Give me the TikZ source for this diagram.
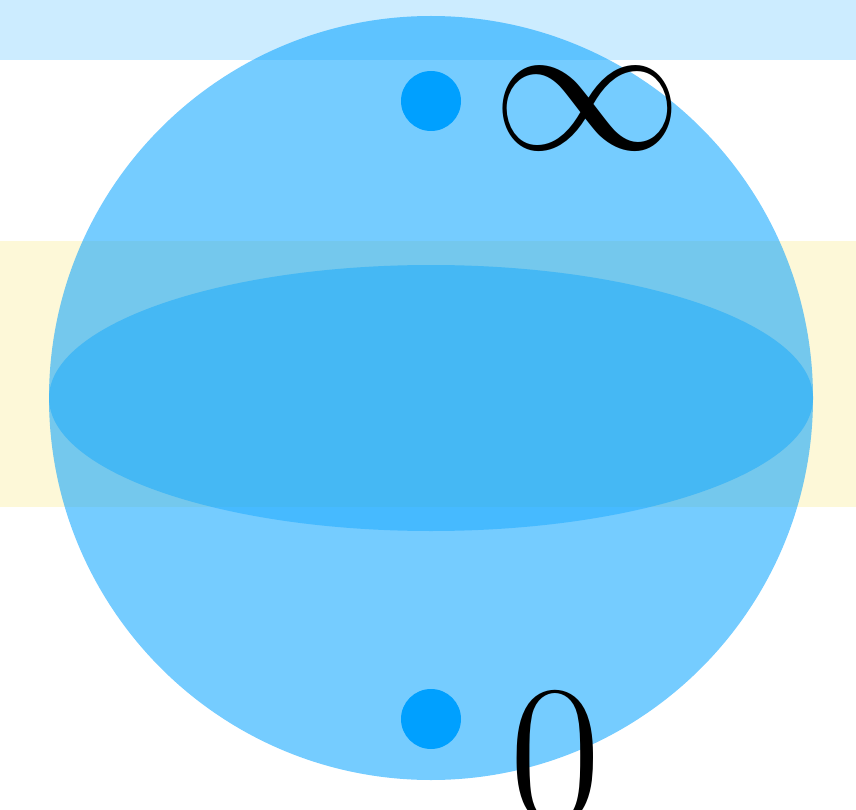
\RequirePackage{fix-cm}
\documentclass[tikz,border=0pt]{standalone}
\usepackage{xcolor}
\usepackage{tikz}
\usetikzlibrary{positioning}
\definecolor{skyblue}{HTML}{00A0FF}
\definecolor{paleyellow}{HTML}{FDF8D8}
\tikzset{
  bandtop/.style={fill=skyblue,fill opacity=0.2},
  bandmid/.style={fill=paleyellow},
  spherefill/.style={fill=skyblue,fill opacity=0.54},
  eqfill/.style={fill=skyblue,fill opacity=0.4},
  polenode/.style={circle,fill=skyblue,minimum size=60pt,inner sep=0pt},
  polelabel/.style={inner sep=0pt,anchor=base,font=\fontsize{200}{200}\selectfont},
}
\begin{document}
\begin{tikzpicture}[x=1pt,y=-1pt]
  \useasboundingbox (0,0) rectangle (856,810);
  \clip (0,0) rectangle (856,810);
  % background bands
  \fill[bandtop] (0,0) rectangle (856,60);
  \fill[bandmid] (0,241) rectangle (856,507);
  % sphere and equator
  \fill[spherefill] (431,398) circle [radius=382];
  \fill[eqfill] (431,398) ellipse [x radius=382, y radius=133];
  % poles
  \node[polenode] (nInf) at (431,101) {};
  \node[polenode] (nZero) at (431,719) {};
  \node[polelabel,font=\fontsize{190}{190}\selectfont] (lInf) at (587,150) {$\infty$};
  \node[polelabel] (lZero) at (555,822) {0};
\end{tikzpicture}
\end{document}
